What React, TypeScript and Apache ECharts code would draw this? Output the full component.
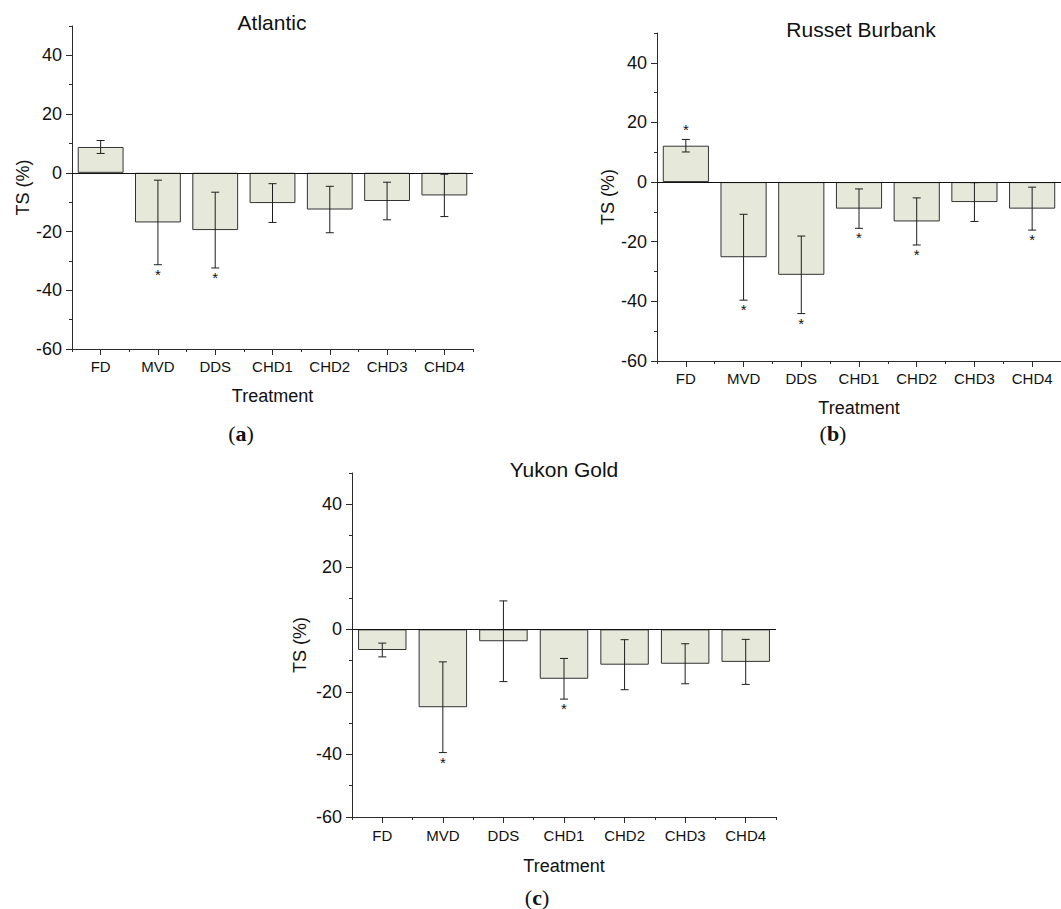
import React, { useEffect, useRef } from "react";
import * as echarts from "echarts";

const categories = ["FD", "MVD", "DDS", "CHD1", "CHD2", "CHD3", "CHD4"];

const atlanticMean = [8.8, -16.9, -19.5, -10.3, -12.5, -9.6, -7.7];
const atlanticErr = [2.2, 14.4, 12.9, 6.6, 7.9, 6.4, 7.2];
const atlanticSig = [0, 1, 1, 0, 0, 0, 0];

const russetMean = [12.2, -25.2, -31.1, -8.9, -13.2, -6.7, -8.9];
const russetErr = [2.1, 14.4, 13.0, 6.6, 7.9, 6.5, 7.2];
const russetSig = [1, 1, 1, 1, 1, 0, 1];

const yukonMean = [-6.6, -24.9, -3.8, -15.8, -11.3, -11.0, -10.4];
const yukonErr = [2.2, 14.5, 12.9, 6.5, 8.0, 6.4, 7.2];
const yukonSig = [0, 1, 0, 1, 0, 0, 0];

const titles = ["Atlantic", "Russet Burbank", "Yukon Gold"];
const panelLetters = ["a", "b", "c"];
const yMin = -60;
const yMax = 50;
const yMajorTicks = [-60, -40, -20, 0, 20, 40];
const yMinorTicks = [-50, -30, -10, 10, 30, 50];
const xName = "Treatment";
const yName = "TS (%)";

const panelsData = [
  { mean: atlanticMean, err: atlanticErr, sig: atlanticSig },
  { mean: russetMean, err: russetErr, sig: russetSig },
  { mean: yukonMean, err: yukonErr, sig: yukonSig },
];

const layouts = [
  { left: 72, top: 26, width: 401, height: 323, titleX: 272, titleY: 22, letterX: 241, letterY: 433, xNameGap: 38, yNameGap: 40, labelMargin: 10 },
  { left: 657, top: 33, width: 406, height: 328, titleX: 861, titleY: 29, letterX: 833, letterY: 433, xNameGap: 38, yNameGap: 40, labelMargin: 10 },
  { left: 352, top: 473, width: 424, height: 344, titleX: 564, titleY: 469, letterX: 537, letterY: 897, xNameGap: 40, yNameGap: 43, labelMargin: 11 },
];

const FONT = "'Liberation Sans', Arial, sans-serif";
const SERIF = "'Liberation Serif', 'Times New Roman', serif";
const AXIS_COLOR = "#2b2b2b";
const TEXT_COLOR = "#111";
const BAR_FILL = "#e6e8da";

export default function App() {
  const ref = useRef<HTMLDivElement | null>(null);

  useEffect(() => {
    if (!ref.current) return;
    const chart = echarts.init(ref.current, undefined, { renderer: "svg" });

    const grid: any[] = [];
    const xAxis: any[] = [];
    const yAxis: any[] = [];
    const series: any[] = [];
    const graphic: any[] = [];

    panelsData.forEach((p, k) => {
      const L = layouts[k];
      grid.push({ left: L.left, top: L.top, width: L.width, height: L.height, containLabel: false });

      // main category axis (center ticks, labels, name)
      xAxis.push({
        type: "category",
        gridIndex: k,
        position: "bottom",
        data: categories,
        axisLine: { show: true, onZero: false, lineStyle: { color: AXIS_COLOR, width: 1 } },
        axisTick: { show: true, alignWithLabel: true, length: 6, lineStyle: { color: AXIS_COLOR } },
        axisLabel: { show: true, margin: L.labelMargin, fontSize: 15, fontFamily: FONT, color: TEXT_COLOR },
        name: xName,
        nameLocation: "middle",
        nameGap: L.xNameGap,
        nameTextStyle: { fontSize: 18, fontFamily: FONT, color: TEXT_COLOR },
        splitLine: { show: false },
      });
      // boundary minor ticks
      xAxis.push({
        type: "category",
        gridIndex: k,
        position: "bottom",
        data: categories,
        axisLine: { show: false, onZero: false },
        axisTick: { show: true, alignWithLabel: false, length: 3, lineStyle: { color: AXIS_COLOR } },
        axisLabel: { show: false },
        splitLine: { show: false },
      });

      yAxis.push({
        type: "value",
        gridIndex: k,
        min: yMin,
        max: yMax,
        axisLine: { show: true, lineStyle: { color: AXIS_COLOR, width: 1 } },
        axisTick: { show: true, length: 6, customValues: yMajorTicks, lineStyle: { color: AXIS_COLOR } },
        axisLabel: { show: true, customValues: yMajorTicks, margin: 10, fontSize: 18, fontFamily: FONT, color: TEXT_COLOR },
        splitLine: { show: false },
        name: yName,
        nameLocation: "middle",
        nameGap: L.yNameGap,
        nameTextStyle: { fontSize: 18, fontFamily: FONT, color: TEXT_COLOR },
      });
      yAxis.push({
        type: "value",
        gridIndex: k,
        min: yMin,
        max: yMax,
        position: "left",
        axisLine: { show: false },
        axisTick: { show: true, length: 3, customValues: yMinorTicks, lineStyle: { color: AXIS_COLOR } },
        axisLabel: { show: false },
        splitLine: { show: false },
      });

      series.push({
        type: "bar",
        xAxisIndex: 2 * k,
        yAxisIndex: 2 * k,
        data: p.mean,
        barCategoryGap: "20%",
        itemStyle: { color: BAR_FILL, borderColor: "#333", borderWidth: 1 },
        silent: true,
        markLine: {
          silent: true,
          symbol: "none",
          label: { show: false },
          lineStyle: { color: "#111", width: 1, type: "solid" },
          data: [{ yAxis: 0 }],
        },
      });

      series.push({
        type: "custom",
        xAxisIndex: 2 * k,
        yAxisIndex: 2 * k,
        silent: true,
        z: 5,
        data: p.mean.map((m, i) => [i, m - p.err[i], m + p.err[i], p.sig[i], m]),
        renderItem: (params: any, api: any) => {
          const idx = api.value(0);
          const lo = api.value(1);
          const hi = api.value(2);
          const sig = api.value(3);
          const mean = api.value(4);
          const pLo = api.coord([idx, lo]);
          const pHi = api.coord([idx, hi]);
          const cx = pLo[0];
          const w = 4;
          const ls = { stroke: "#1e1e1e", lineWidth: 1 };
          const children: any[] = [
            { type: "line", shape: { x1: cx, y1: pLo[1], x2: cx, y2: pHi[1] }, style: ls },
            { type: "line", shape: { x1: cx - w, y1: pLo[1], x2: cx + w, y2: pLo[1] }, style: ls },
            { type: "line", shape: { x1: cx - w, y1: pHi[1], x2: cx + w, y2: pHi[1] }, style: ls },
          ];
          if (sig) {
            const above = mean >= 0;
            children.push({
              type: "text",
              x: cx,
              y: above ? pHi[1] - 2.5 : pLo[1] + 2,
              style: {
                text: "*",
                fill: "#111",
                font: `15px ${FONT}`,
                align: "center",
                verticalAlign: above ? "bottom" : "top",
              },
            });
          }
          return { type: "group", children };
        },
      });

      graphic.push({
        type: "text",
        x: L.titleX,
        y: L.titleY,
        silent: true,
        style: {
          text: titles[k],
          fill: TEXT_COLOR,
          font: `21px ${FONT}`,
          align: "center",
          verticalAlign: "middle",
        },
      });
      graphic.push({
        type: "text",
        x: L.letterX,
        y: L.letterY,
        silent: true,
        style: {
          text: `{p|(}{b|${panelLetters[k]}}{p|)}`,
          align: "center",
          verticalAlign: "middle",
          rich: {
            p: { fontFamily: SERIF, fontSize: 22, fill: TEXT_COLOR },
            b: { fontFamily: SERIF, fontSize: 22, fontWeight: "bold", fill: TEXT_COLOR },
          },
        },
      });
    });

    chart.setOption({
      animation: false,
      backgroundColor: "#ffffff",
      textStyle: { fontFamily: FONT },
      grid,
      xAxis,
      yAxis,
      series,
      graphic,
    });

    return () => {
      chart.dispose();
    };
  }, []);

  return (
    <div
      ref={ref}
      style={{ position: "fixed", left: 0, top: 0, width: 1061, height: 909, background: "#fff" }}
    />
  );
}
